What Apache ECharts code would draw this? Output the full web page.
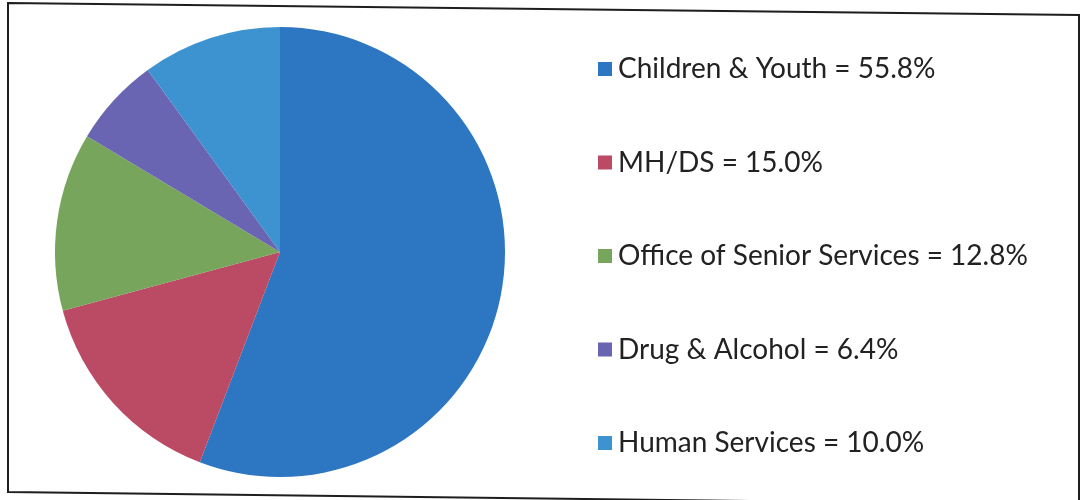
<!DOCTYPE html>
<html>
<head>
<meta charset="utf-8">
<script src="https://cdn.jsdelivr.net/npm/echarts@6/dist/echarts.min.js"></script>
<style>
  html, body { margin: 0; padding: 0; background: #ffffff; }
  #chart { width: 1080px; height: 500px; }
</style>
</head>
<body>
<div id="chart"></div>
<script>
// Funding share by program area (percent of total)
const categories = [
  'Children & Youth',
  'MH/DS',
  'Office of Senior Services',
  'Drug & Alcohol',
  'Human Services'
];
const shares = [55.8, 15.0, 12.8, 6.4, 10.0];
const sliceColors = ['#2d76c1', '#bb4a65', '#77a55c', '#6a65b2', '#3c93d0'];

const chart = echarts.init(document.getElementById('chart'), null, { renderer: 'canvas' });

const pieData = categories.map((name, i) => ({
  name: name,
  value: shares[i],
  itemStyle: { color: sliceColors[i] }
}));

chart.setOption({
  backgroundColor: '#ffffff',
  animation: false,
  graphic: [
    {
      type: 'polygon',
      shape: { points: [[8, 3], [1079, 15], [1079, 505], [8, 492]] },
      style: { fill: 'none', stroke: '#1e1e1e', lineWidth: 2 },
      z: 10
    }
  ],
  legend: {
    orient: 'vertical',
    left: 593,
    top: 49,
    itemGap: 63.5,
    itemWidth: 14,
    itemHeight: 14,
    icon: 'rect',
    selectedMode: false,
    data: categories,
    formatter: function (name) {
      const i = categories.indexOf(name);
      return name + ' = ' + shares[i].toFixed(1) + '%';
    },
    textStyle: {
      fontFamily: 'Lato',
      fontSize: 28,
      color: '#222222',
      lineHeight: 30,
      padding: [0, 0, 0, 1]
    }
  },
  series: [
    {
      type: 'pie',
      center: [280, 252],
      radius: 225,
      startAngle: 90,
      clockwise: true,
      label: { show: false },
      labelLine: { show: false },
      itemStyle: { borderWidth: 0 },
      emphasis: { disabled: true },
      data: pieData
    }
  ]
});
</script>
</body>
</html>
